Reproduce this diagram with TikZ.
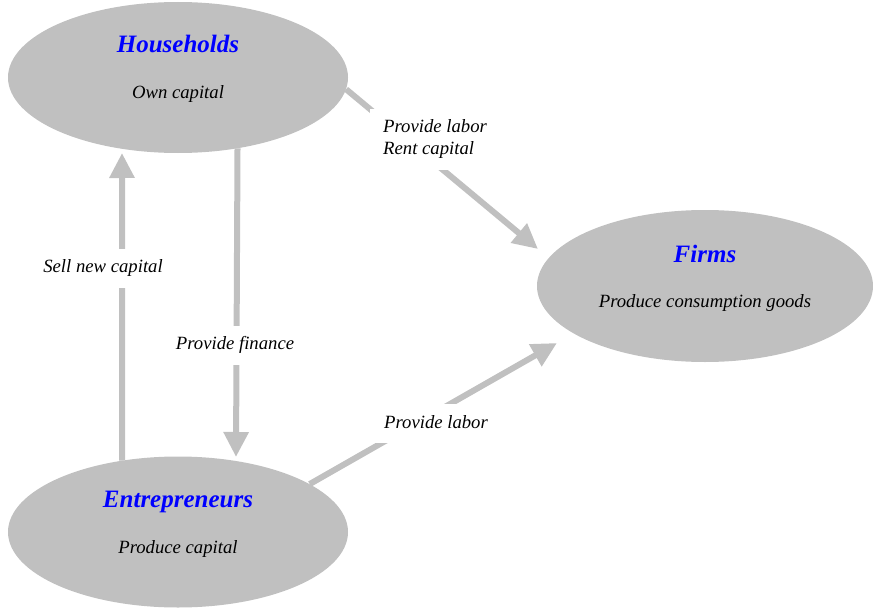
\documentclass[tikz,border=0pt]{standalone}
\usepackage{fontspec}
\setmainfont{Liberation Serif}
\usetikzlibrary{arrows.meta,shapes.geometric}
\definecolor{ovalgray}{HTML}{C0C0C0}
\definecolor{titleblue}{HTML}{0000FF}
\begin{document}
\begin{tikzpicture}[x=1pt,y=-1pt,
 oval/.style={ellipse,fill=ovalgray,inner sep=0pt,minimum width=340pt,minimum height=151pt},
 title/.style={anchor=base,text=titleblue,font=\fontsize{25}{30}\selectfont\bfseries\itshape},
 body/.style={anchor=base,font=\fontsize{18.7}{22}\selectfont\itshape},
 flow/.style={draw=ovalgray,line width=6pt,-{Triangle[length=25pt,width=24pt]}},
 lblbase/.style={fill=white,inner xsep=13pt,inner ysep=11pt,font=\fontsize{18.7}{22}\selectfont\itshape},
 lblone/.style={lblbase,text height=13pt,text depth=4pt}]
\useasboundingbox (0,0) rectangle (873,610);
% ovals
\node[oval] (hh) at (178,77.5) {};
\node[oval,minimum width=336pt,minimum height=152pt] (firms) at (705,286) {};
\node[oval] (ent) at (178,532) {};
% texts in ovals
\node[title] (hht) at (178,53) {Households};
\node[body] (hhb) at (178,99) {Own capital};
\node[title] (fit) at (705,262) {Firms};
\node[body] (fib) at (705,307) {Produce consumption goods};
\node[title] (entt) at (178,507) {Entrepreneurs};
\node[body] (entb) at (178,553) {Produce capital};
% arrow tips
\coordinate (tipfirmsA) at (538,249);
\coordinate (tipfirmsB) at (557,343);
\coordinate (tipfin) at (236,457);
\coordinate (tipsell) at (122,153);
% connectors
\draw[flow] (hh.-4.3) -- (tipfirmsA);
\draw[flow] (ent.20.4) -- (tipfirmsB);
\draw[flow] (hh.-50.75) -- (tipfin);
\draw[flow] (ent.128.15) -- (tipsell);
% labels
\node[lblone] (sell) at (103,268) {Sell new capital};
\node[lblone] (fin) at (235,345) {Provide finance};
\node[lblbase,align=left,anchor=west] (rent) at (370,139.5) {Provide labor\\Rent capital};
\node[lblone] (labor) at (436,423.5) {Provide labor};
\end{tikzpicture}
\end{document}
